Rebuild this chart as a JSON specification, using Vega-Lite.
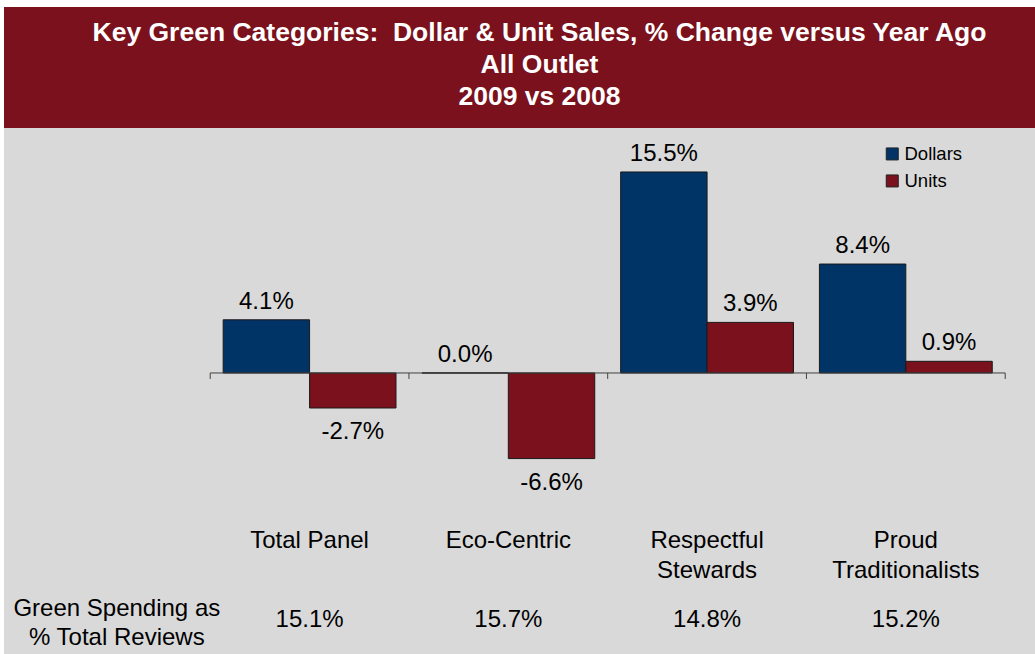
{
  "$schema": "https://vega.github.io/schema/vega-lite/v6.json",
  "background": "white",
  "padding": {"left": 4, "top": 7, "right": 0, "bottom": 0},
  "spacing": 0,
  "bounds": "flush",
  "config": {
    "view": {"stroke": null},
    "font": "Liberation Sans",
    "locale": {"number": {"decimal": ".", "thousands": ",", "grouping": [3], "currency": ["$", ""], "minus": "-"}}
  },
  "vconcat": [
    {
      "width": 1031,
      "height": 121,
      "view": {"fill": "#7A111C", "stroke": null},
      "data": {"values": [{"t": "Key Green Categories:\u00a0 Dollar & Unit Sales, % Change versus Year Ago\nAll Outlet\n2009 vs 2008"}]},
      "mark": {"type": "text", "lineBreak": "\n", "lineHeight": 32, "fontSize": 26.5, "fontWeight": "bold", "color": "white", "baseline": "middle", "font": "Liberation Sans", "dx": 20, "dy": -34.5},
      "encoding": {"text": {"field": "t"}}
    },
    {
      "width": 1031,
      "height": 526,
      "view": {"fill": "#D9D9D9", "stroke": null},
      "layer": [
        {
          "data": {"values": [
            {"category": "Total Panel", "measure": "Dollars", "value": 0.041},
            {"category": "Total Panel", "measure": "Units", "value": -0.027},
            {"category": "Eco-Centric", "measure": "Dollars", "value": 0.0},
            {"category": "Eco-Centric", "measure": "Units", "value": -0.066},
            {"category": "Respectful Stewards", "measure": "Dollars", "value": 0.155},
            {"category": "Respectful Stewards", "measure": "Units", "value": 0.039},
            {"category": "Proud Traditionalists", "measure": "Dollars", "value": 0.084},
            {"category": "Proud Traditionalists", "measure": "Units", "value": 0.009}
          ]},
          "layer": [
            {
              "mark": {"type": "bar", "stroke": "#1a1a1a", "strokeWidth": 1},
              "encoding": {
                "x": {"field": "category", "type": "nominal", "scale": {"domain": ["rowlabel", "Total Panel", "Eco-Centric", "Respectful Stewards", "Proud Traditionalists"], "paddingInner": 0, "paddingOuter": 0.0937, "align": 0.2}, "axis": null},
                "xOffset": {"field": "measure", "type": "nominal", "scale": {"domain": ["Dollars", "Units"], "paddingInner": 0, "paddingOuter": 0.15}},
                "y": {"field": "value", "type": "quantitative", "scale": {"domain": [-0.2167, 0.1889], "nice": false}, "axis": null},
                "color": {"field": "measure", "type": "nominal", "scale": {"domain": ["Dollars", "Units"], "range": ["#003366", "#7A111C"]},
                  "legend": {"title": null, "orient": "none", "legendX": 879, "legendY": 137.7, "symbolType": "square", "symbolSize": 144, "symbolStrokeColor": "#222222", "symbolStrokeWidth": 1, "symbolOpacity": 1, "labelFontSize": 18.5, "labelFont": "Liberation Sans", "labelColor": "black", "rowPadding": 8, "labelOffset": 3, "padding": 0}}
              }
            },
            {
              "transform": [{"filter": "datum.value >= 0"}],
              "mark": {"type": "text", "fontSize": 24, "baseline": "alphabetic", "dy": -11, "color": "black"},
              "encoding": {
                "x": {"field": "category", "type": "nominal"},
                "xOffset": {"field": "measure", "type": "nominal"},
                "y": {"field": "value", "type": "quantitative"},
                "text": {"field": "value", "type": "quantitative", "format": ".1%"}
              }
            },
            {
              "transform": [{"filter": "datum.value < 0"}],
              "mark": {"type": "text", "fontSize": 24, "baseline": "alphabetic", "dy": 31, "color": "black"},
              "encoding": {
                "x": {"field": "category", "type": "nominal"},
                "xOffset": {"field": "measure", "type": "nominal"},
                "y": {"field": "value", "type": "quantitative"},
                "text": {"field": "value", "type": "quantitative", "format": ".1%"}
              }
            }
          ]
        },
        {
          "data": {"values": [{"z": 0}]},
          "mark": {"type": "rule", "color": "#404040", "strokeWidth": 1},
          "encoding": {
            "x": {"datum": "Total Panel", "type": "nominal", "bandPosition": 0},
            "x2": {"datum": "Proud Traditionalists", "bandPosition": 1},
            "y": {"datum": 0, "type": "quantitative"}
          }
        },
        {
          "data": {"values": [
            {"category": "Total Panel", "label": "Total Panel", "spending": 0.151},
            {"category": "Eco-Centric", "label": "Eco-Centric", "spending": 0.157},
            {"category": "Respectful Stewards", "label": "Respectful\nStewards", "spending": 0.148},
            {"category": "Proud Traditionalists", "label": "Proud\nTraditionalists", "spending": 0.152}
          ]},
          "layer": [
            {
              "mark": {"type": "rule", "color": "#404040", "strokeWidth": 1},
              "encoding": {
                "x": {"field": "category", "type": "nominal", "bandPosition": 0},
                "y": {"datum": 0, "type": "quantitative"},
                "y2": {"datum": -0.0046}
              }
            },
            {
              "mark": {"type": "text", "fontSize": 24, "baseline": "alphabetic", "lineBreak": "\n", "lineHeight": 30.5, "color": "black"},
              "encoding": {
                "x": {"field": "category", "type": "nominal"},
                "y": {"datum": -0.1349, "type": "quantitative"},
                "text": {"field": "label"}
              }
            },
            {
              "mark": {"type": "text", "fontSize": 24, "baseline": "alphabetic", "color": "black"},
              "encoding": {
                "x": {"field": "category", "type": "nominal"},
                "y": {"datum": -0.1955, "type": "quantitative"},
                "text": {"field": "spending", "type": "quantitative", "format": ".1%"}
              }
            }
          ]
        },
        {
          "data": {"values": [{"edge": "Proud Traditionalists", "rowname": "Green Spending as\n% Total Reviews"}]},
          "layer": [
            {
              "mark": {"type": "rule", "color": "#404040", "strokeWidth": 1},
              "encoding": {
                "x": {"field": "edge", "type": "nominal", "bandPosition": 1},
                "y": {"datum": 0, "type": "quantitative"},
                "y2": {"datum": -0.0046}
              }
            },
            {
              "mark": {"type": "text", "fontSize": 24, "baseline": "alphabetic", "lineBreak": "\n", "lineHeight": 29, "color": "black", "dx": 6},
              "encoding": {
                "x": {"datum": "rowlabel", "type": "nominal"},
                "y": {"datum": -0.1877, "type": "quantitative"},
                "text": {"field": "rowname"}
              }
            }
          ]
        }
      ]
    }
  ]
}
